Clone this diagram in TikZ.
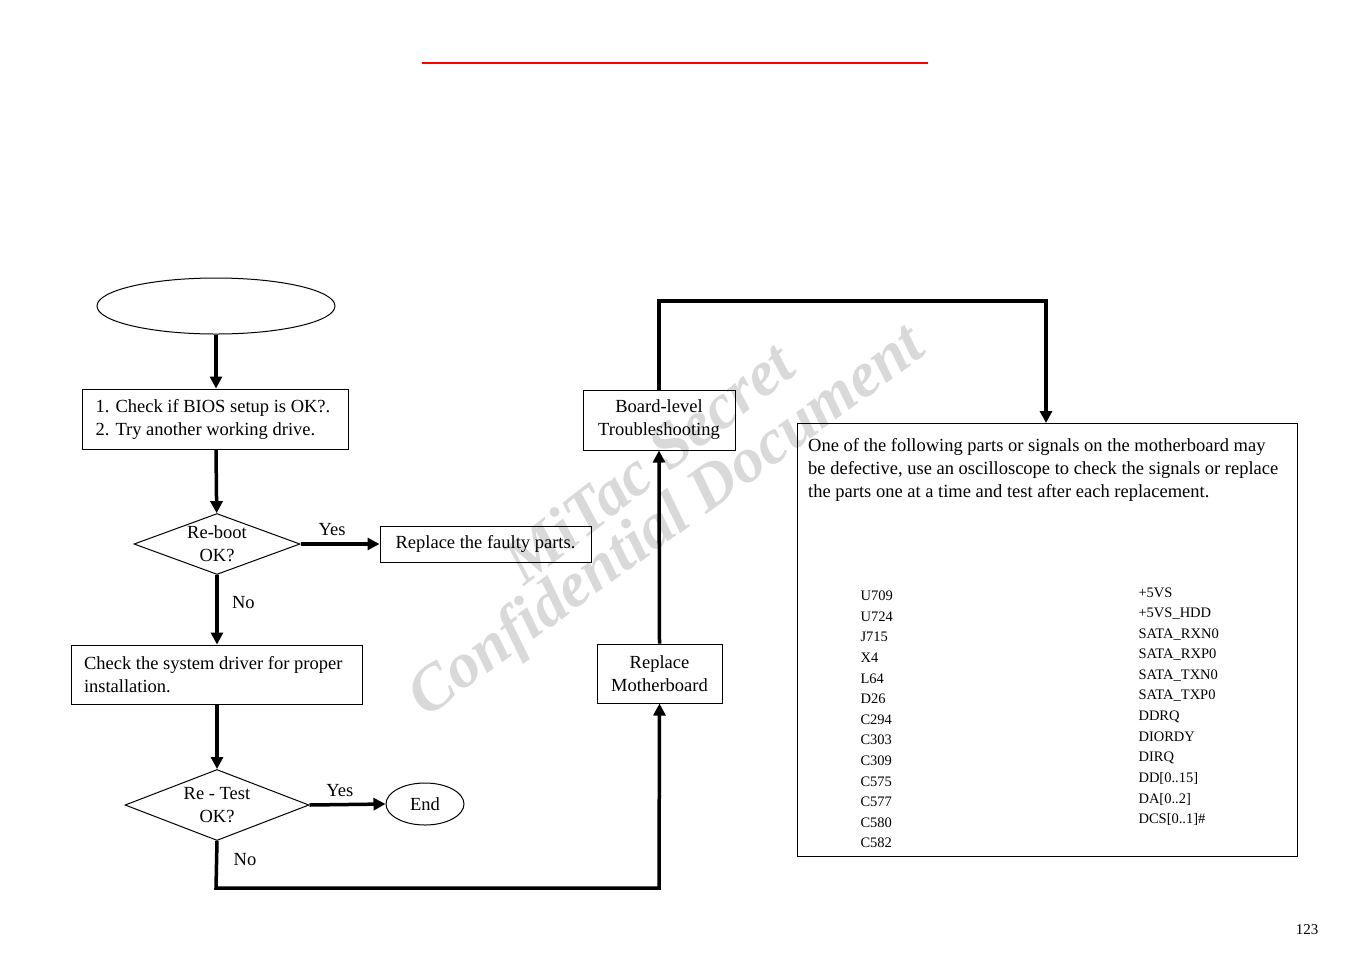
\documentclass[tikz,border=0pt]{standalone}
\usepackage{fontspec}
\setmainfont{Liberation Serif}
\usetikzlibrary{shapes.geometric,arrows.meta}
\begin{document}
\begin{tikzpicture}[x=1pt,y=-1pt,
  box/.style={draw,line width=1pt,inner sep=0pt,font=\fontsize{18.5}{23}\selectfont},
  dia/.style={draw,diamond,aspect=2.4,line width=1pt,inner sep=0pt,font=\fontsize{18.5}{23}\selectfont,align=center},
  flow/.style={line width=3.5pt,-{Triangle[length=12pt,width=12pt]}},
  lbl/.style={font=\fontsize{18.5}{20}\selectfont},
  sm/.style={font=\fontsize{14.5}{16}\selectfont,anchor=west}]
\useasboundingbox (0,0) rectangle (1351,954);
\draw[red,line width=2pt] (422,63) -- (928,63);
% watermark
\node[rotate=38,text=gray!30,font=\fontsize{64}{64}\selectfont\bfseries\itshape] (wm1) at (648,462) {MiTac Secret};
\node[rotate=36,text=gray!30,font=\fontsize{64}{64}\selectfont\bfseries\itshape] (wm2) at (668,523) {Confidential Document};
\node[draw,ellipse,line width=1pt,minimum width=238pt,minimum height=56pt] (st) at (216,306) {};
\node[box,minimum height=60pt,align=flush left,text width=239pt,inner xsep=13.5pt] (b1) at (215,419) {1. Check if BIOS setup is OK?.\\2. Try another working drive.};
\node[dia,minimum width=166pt,minimum height=56pt] (d1) at (217,544) {Re-boot\\OK?};
\node[box,minimum width=211pt,minimum height=36pt] (rf) at (485.5,544) {Replace the faulty parts.};
\node[box,minimum height=59pt,align=flush left,text width=265pt,inner xsep=13pt] (b2) at (216.5,674.5) {Check the system driver for proper\\installation.};
\node[dia,minimum width=184pt,minimum height=71pt] (d2) at (217,805) {Re - Test\\OK?};
\node[draw,ellipse,line width=1pt,minimum width=78pt,minimum height=42pt,font=\fontsize{18.5}{20}\selectfont] (end) at (425,804) {End};
\node[box,minimum width=125pt,minimum height=59pt,align=center] (rm) at (659.5,673.5) {Replace\\Motherboard};
\node[box,minimum width=152pt,minimum height=60pt,align=center] (bl) at (659,420) {Board-level\\Troubleshooting};
\node[draw,line width=1pt,minimum width=500pt,minimum height=433pt] (big) at (1047,639.5) {};
\node[anchor=north west,align=left,inner sep=0pt,font=\fontsize{18.5}{23}\selectfont] (bt) at (808,438) {One of the following parts or signals on the motherboard may\\be defective, use an oscilloscope to check the signals or replace\\the parts one at a time and test after each replacement.};
\foreach \t [count=\i from 0] in {U709,U724,J715,X4,L64,D26,C294,C303,C309,C575,C577,C580,C582}
  \node[sm] (l\i) at (857,596+20.6*\i) {\t};
\foreach \t [count=\i from 0] in {+5VS,+5VS\_HDD,SATA\_RXN0,SATA\_RXP0,SATA\_TXN0,SATA\_TXP0,DDRQ,DIORDY,DIRQ,DD[0..15],DA[0..2],DCS[0..1]\#}
  \node[sm] (r\i) at (1135,593+20.6*\i) {\t};
\node[font=\fontsize{15}{18}\selectfont] (pg) at (1307,930) {123};
\draw[flow] (st) -- (b1.north -| st);
\draw[flow] (b1.south -| st) -- (d1);
\draw[flow] (d1.east) -- (rf.west) node[lbl,pos=0.4,above=3pt] {Yes};
\draw[flow] (d1.south) -- (b2.north -| d1) node[lbl,pos=0.4,right=10pt] {No};
\draw[flow] (b2.south -| d2) -- (d2);
\draw[flow] (d2.east) -- (end.west) node[lbl,pos=0.4,above=3pt] {Yes};
\coordinate (c1) at (216,888);
\coordinate (c2) at (659,888);
\draw[flow] (d2.south) -- (c1) -- (c2) -- (rm.south);
\node[lbl] (no2) at (245,860) {No};
\draw[flow] (rm.north) -- (bl.south);
\coordinate (c3) at (659,301);
\coordinate (c4) at (1046,301);
\draw[flow] (bl.north) -- (c3) -- (c4) -- (1046,423);
\end{tikzpicture}
\end{document}
